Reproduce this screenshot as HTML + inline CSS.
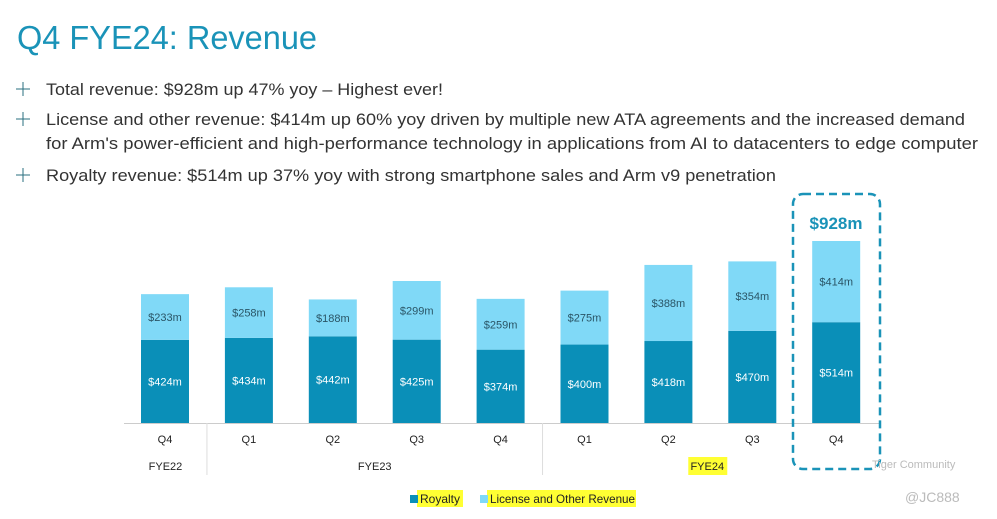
<!DOCTYPE html>
<html><head><meta charset="utf-8"><style>
html,body{margin:0;padding:0;background:#fff;}
svg{display:block;font-family:"Liberation Sans",sans-serif;}
</style></head><body>
<svg id="chart" width="997" height="519" viewBox="0 0 997 519">
<text x="17" y="49" font-size="33" fill="#1a93b8" textLength="300" lengthAdjust="spacingAndGlyphs">Q4 FYE24: Revenue</text>
<g fill="#333" font-size="17">
<text x="46" y="95" textLength="397" lengthAdjust="spacingAndGlyphs">Total revenue: $928m up 47% yoy – Highest ever!</text>
<text x="46" y="125" textLength="919" lengthAdjust="spacingAndGlyphs">License and other revenue: $414m up 60% yoy driven by multiple new ATA agreements and the increased demand</text>
<text x="46" y="149" textLength="932" lengthAdjust="spacingAndGlyphs">for Arm's power-efficient and high-performance technology in applications from AI to datacenters to edge computer</text>
<text x="46" y="181" textLength="730" lengthAdjust="spacingAndGlyphs">Royalty revenue: $514m up 37% yoy with strong smartphone sales and Arm v9 penetration</text>
</g>
<g stroke="#2a6f7f" stroke-width="1">
<path d="M16 89h14M23 82v14M16 119h14M23 112v14M16 175h14M23 168v14"/>
</g>
<g id="bars"></g>
<g id="table"></g>
<rect x="793" y="194" width="87" height="275" rx="10" fill="none" stroke="#1a93b8" stroke-width="2.5" stroke-dasharray="8,5"/>
<text x="836" y="229" font-size="17" font-weight="bold" fill="#1a93b8" text-anchor="middle">$928m</text>
<g font-size="12">
<rect x="417" y="490" width="46" height="17" fill="#ffff33"/>
<rect x="487" y="490" width="149" height="17" fill="#ffff33"/>
<rect x="410" y="495" width="8" height="8" fill="#0a8fb8"/>
<text x="420" y="503" fill="#222">Royalty</text>
<rect x="480" y="495" width="8" height="8" fill="#80d9f7"/>
<text x="490" y="503" fill="#222" textLength="145" lengthAdjust="spacingAndGlyphs">License and Other Revenue</text>
</g>
<text x="872" y="468" font-size="11" fill="#bbb">Tiger Community</text>
<text x="905" y="502" font-size="14" fill="#bbb">@JC888</text>
</svg>
<script>
const quarters = ["Q4","Q1","Q2","Q3","Q4","Q1","Q2","Q3","Q4"];
const royalty = [424,434,442,425,374,400,418,470,514];
const license = [233,258,188,299,259,275,388,354,414];
const years = [{label:"FYE22",from:0,to:0},{label:"FYE23",from:1,to:4},{label:"FYE24",from:5,to:8}];
const NS="http://www.w3.org/2000/svg";
const baseY=423, scale=182/928, x0=141, step=83.9, bw=48, tableLeft=124, tableRight=880;
const xPos=i=>x0+i*step;
const yLen=v=>v*scale;
function mk(t,a,p){const e=document.createElementNS(NS,t);for(const k in a)e.setAttribute(k,a[k]);p.appendChild(e);return e;}
const g=document.getElementById('bars');
royalty.forEach((r,i)=>{
  const l=license[i], x=xPos(i), hr=yLen(r), hl=yLen(l);
  const b1=mk('rect',{x:x,y:baseY-hr,width:bw,height:hr,fill:'#0a8fb8'},g);
  
  
  const b2=mk('rect',{x:x,y:baseY-hr-hl,width:bw,height:hl,fill:'#80d9f7'},g);
  
  
  const t1=mk('text',{x:x+bw/2,y:baseY-hr/2+4,'font-size':11,fill:'#fff','text-anchor':'middle'},g);
  t1.textContent='$'+r+'m';
  
  
  const t2=mk('text',{x:x+bw/2,y:baseY-hr-hl/2+4,'font-size':11,fill:'#2a5566','text-anchor':'middle'},g);
  t2.textContent='$'+l+'m';
  
  
});
const tb=document.getElementById('table');
const ln=mk('line',{x1:tableLeft,x2:tableRight,y1:baseY+0.5,y2:baseY+0.5,stroke:'#ccc'},tb);


quarters.forEach((q,i)=>{
  const t=mk('text',{x:xPos(i)+bw/2,y:443,'font-size':11,fill:'#222','text-anchor':'middle'},tb);
  t.textContent=q;
  
  
});
years.forEach((yr,j)=>{
  const left=j===0?tableLeft:(xPos(yr.from)+xPos(yr.from-1)+bw)/2;
  const right=yr.to===quarters.length-1?tableRight:(xPos(yr.to)+bw+xPos(yr.to+1))/2;
  if(j>0){const s=mk('line',{x1:left,x2:left,y1:baseY,y2:475,stroke:'#ddd'},tb);
    
    }
  const cx=(left+right)/2;
  if(yr.label==='FYE24'){const h=mk('rect',{x:cx-23,y:457,width:39,height:18,fill:'#ffff33'},tb);
    
    }
  const t=mk('text',{x:yr.label==='FYE24'?cx-4:cx,y:470,'font-size':11,fill:'#222','text-anchor':'middle'},tb);
  t.textContent=yr.label;
  
  
});
</script>
</body></html>
